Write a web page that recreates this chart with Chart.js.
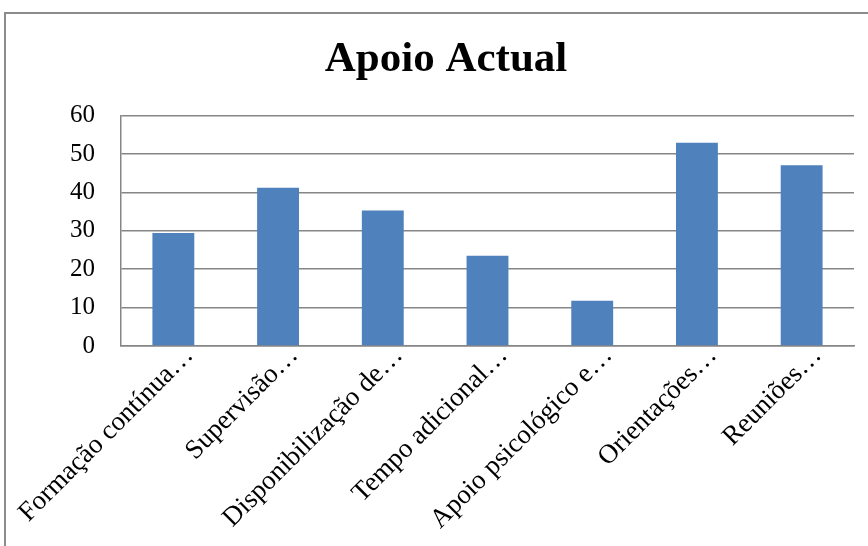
<!DOCTYPE html>
<html>
<head>
<meta charset="utf-8">
<script src="https://cdn.jsdelivr.net/npm/chart.js@4"></script>
<style>
    html, body { margin: 0; padding: 0; background: #fff; }
    .wrap { position: relative; width: 868px; height: 546px; overflow: hidden; }
    .frame {
        position: absolute; left: 4px; top: 12px; width: 900px; height: 600px;
        border-left: 2px solid #8c8c8c; border-top: 2px solid #8c8c8c;
    }
    canvas { position: absolute; left: 0; top: 0; }
</style>
</head>
<body>
<div class="wrap">
    <div class="frame"></div>
    <canvas id="apoioChart" width="868" height="546"></canvas>
</div>
<script>
// data
const categories = [
    'Formação contínua…',
    'Supervisão…',
    'Disponibilização de…',
    'Tempo adicional…',
    'Apoio psicológico e…',
    'Orientações…',
    'Reuniões…'
];
const values = [29.4, 41.2, 35.3, 23.5, 11.8, 52.9, 47.1];
const yTicks = [0, 10, 20, 30, 40, 50, 60];

const serif = "'Liberation Serif', 'Times New Roman', serif";

const ctx = document.getElementById('apoioChart').getContext('2d');
new Chart(ctx, {
    type: 'bar',
    data: {
        labels: categories,
        datasets: [{
            label: 'Apoio Actual',
            data: values,
            backgroundColor: '#4F81BD',
            borderWidth: 0,
            barPercentage: 0.4,
            categoryPercentage: 1.0
        }]
    },
    options: {
        responsive: false,
        animation: false,
        layout: {
            padding: { left: 38, right: 14, top: 0, bottom: 0 }
        },
        plugins: {
            legend: { display: false },
            tooltip: { enabled: false },
            title: {
                display: true,
                text: 'Apoio Actual',
                color: '#000',
                font: { family: serif, size: 43, weight: 'bold' },
                padding: { top: 34, bottom: 30 }
            }
        },
        scales: {
            y: {
                min: 0,
                max: 60,
                afterBuildTicks: (scale) => {
                    scale.ticks = yTicks.map(v => ({ value: v }));
                },
                afterFit: (scale) => { scale.width = 83; },
                grid: {
                    color: '#868686',
                    lineWidth: 1.5,
                    drawTicks: false
                },
                border: { display: true, color: '#868686', width: 1.5 },
                ticks: {
                    color: '#000',
                    padding: 26,
                    font: { family: serif, size: 25 }
                }
            },
            x: {
                afterFit: (scale) => { scale.height = 200; },
                grid: { display: false, drawTicks: false },
                border: { display: true, color: '#868686', width: 1.5 },
                ticks: {
                    color: '#000',
                    autoSkip: false,
                    minRotation: 45,
                    maxRotation: 45,
                    padding: -6,
                    labelOffset: 16,
                    font: { family: serif, size: 27 }
                }
            }
        }
    }
});
</script>
</body>
</html>
